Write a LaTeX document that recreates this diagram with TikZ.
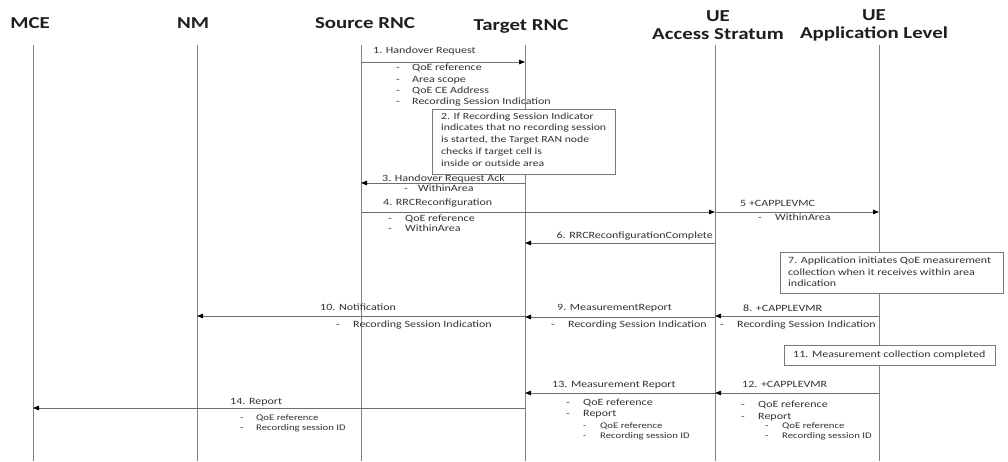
\documentclass[tikz,border=0pt]{standalone}
\usepackage{fontspec}
\setmainfont[FakeStretch=1.25]{Carlito}
\usetikzlibrary{arrows.meta}
\definecolor{txt}{RGB}{50,50,50}
\definecolor{hdrc}{RGB}{30,30,30}
\definecolor{lifec}{RGB}{130,130,130}
\definecolor{msgc}{RGB}{110,110,110}
\definecolor{boxc}{RGB}{120,120,120}
\newcommand\dsh[1]{\makebox[#1][l]{-}}
\tikzset{
  hdr/.style={font=\bfseries\fontsize{16.7}{20}\selectfont, text=hdrc, inner sep=0, align=center},
  lbl/.style={font=\fontsize{9.6}{12}\selectfont, anchor=west, inner sep=0, text=txt, text height=6.5pt, text depth=1pt},
  lblr/.style={lbl, anchor=east},
  sbl/.style={lbl, font=\fontsize{8.6}{10}\selectfont},
  life/.style={draw=lifec, line width=0.8pt},
  msg/.style={draw=msgc, line width=0.8pt, -{Triangle[length=6pt,width=4.5pt,color=black]}},
  notebox/.style={draw=boxc, fill=white, line width=0.7pt, anchor=north west, inner sep=0pt},
  notetext/.style={anchor=north west, inner sep=0pt, align=left, text=txt}
}
\begin{document}
\begin{tikzpicture}[x=1pt,y=-1pt]
\useasboundingbox[fill=white] (0,0) rectangle (1008,461);
% headers
\node[hdr] (hmce) at (30,23) {MCE};
\node[hdr] (hnm) at (193,23) {NM};
\node[hdr] (hsr) at (365,23) {Source RNC};
\node[hdr] (htr) at (521,26) {Target RNC};
\node[hdr] (has) at (718,25) {UE\\[-2pt]Access Stratum};
\node[hdr] (hap) at (874,25) {UE\\[-2pt]Application Level};
% lifelines
\coordinate (mce) at (33,45);  \coordinate (mceb) at (33,461);
\coordinate (nm) at (197,45);  \coordinate (nmb) at (197,461);
\coordinate (sr) at (361,45);  \coordinate (srb) at (361,461);
\coordinate (tr) at (525,45);  \coordinate (trb) at (525,461);
\coordinate (as) at (715,45);  \coordinate (asb) at (715,461);
\coordinate (ap) at (879,45);  \coordinate (apb) at (879,461);
\foreach \a/\b in {mce/mceb,nm/nmb,sr/srb,tr/trb,as/asb,ap/apb}
  \draw[life] (\a) -- (\b);

% 1
\node[lbl] (l1) at (373,51) {1. Handover Request};
\draw[msg] (sr |- 0,62) -- (tr |- 0,62);
\node[lbl] (b1a) at (396,68) {\dsh{16pt}QoE reference};
\node[lbl] (b1b) at (396,80) {\dsh{16pt}Area scope};
\node[lbl] (b1c) at (396,91) {\dsh{16pt}QoE CE Address};
\node[lbl] (b1d) at (396,102) {\dsh{16pt}Recording Session Indication};
% 2
\node[notebox, minimum width=183pt, minimum height=65pt] (n2) at (432,109) {};
\node[notetext, font=\fontsize{9.4}{11.7}\selectfont] (t2) at (441,112.5)
 {2. If Recording Session Indicator\\indicates that no recording session\\is started, the Target RAN node\\checks if target cell is\\inside or outside area};
% 3
\node[lbl] (l3) at (382,178.5) {3. Handover Request Ack};
\draw[msg] (tr |- 0,183) -- (sr |- 0,183);
\node[lbl] (b3) at (404,189) {\dsh{14pt}WithinArea};
% 4
\node[lbl] (l4) at (383,203) {4. RRCReconfiguration};
\draw[msg] (sr |- 0,212) -- (as |- 0,212);
\node[lbl] (b4a) at (388,219) {\dsh{17pt}QoE reference};
\node[lbl] (b4b) at (388,229) {\dsh{17pt}WithinArea};
% 5
\node[lbl] (l5) at (740,204) {5 +CAPPLEVMC};
\draw[msg] (as |- 0,212) -- (ap |- 0,212);
\node[lbl] (b5) at (758,217.5) {\dsh{17pt}WithinArea};
% 6
\node[lblr] (l6) at (713,236) {6. RRCReconfigurationComplete};
\draw[msg] (as |- 0,243) -- (tr |- 0,243);
% 7
\node[notebox, minimum width=223pt, minimum height=41pt] (n7) at (780,252) {};
\node[notetext, font=\fontsize{9.6}{11.2}\selectfont] (t7) at (788,257)
 {7. Application initiates QoE measurement\\collection when it receives within area\\indication};
% 8
\node[lbl] (l8) at (743,308.5) {8. +CAPPLEVMR};
\draw[msg] (ap |- 0,316) -- (as |- 0,316);
\node[lbl] (b8) at (720,325) {\dsh{17pt}Recording Session Indication};
% 9
\node[lbl] (l9) at (557,308) {9. MeasurementReport};
\draw[msg] (as |- 0,317) -- (tr |- 0,317);
\node[lbl] (b9) at (551,325) {\dsh{17pt}Recording Session Indication};
% 10
\node[lbl] (l10) at (320,307.5) {10. Notification};
\draw[msg] (tr |- 0,316) -- (nm |- 0,316);
\node[lbl] (b10) at (336,325) {\dsh{17pt}Recording Session Indication};
% 11
\node[notebox, minimum width=211pt, minimum height=20pt] (n11) at (784,345) {};
\node[lbl] (t11) at (793,355) {11. Measurement collection completed};
% 12
\node[lbl] (l12) at (742,385) {12. +CAPPLEVMR};
\draw[msg] (ap |- 0,393) -- (as |- 0,393);
\node[lbl] (b12a) at (741,405) {\dsh{17pt}QoE reference};
\node[lbl] (b12b) at (741,416.5) {\dsh{17pt}Report};
\node[sbl] (b12c) at (765,426) {\dsh{17pt}QoE reference};
\node[sbl] (b12d) at (765,436) {\dsh{17pt}Recording session ID};
% 13
\node[lbl] (l13) at (552,385) {13. Measurement Report};
\draw[msg] (as |- 0,393) -- (tr |- 0,393);
\node[lbl] (b13a) at (566,403) {\dsh{17pt}QoE reference};
\node[lbl] (b13b) at (566,414) {\dsh{17pt}Report};
\node[sbl] (b13c) at (583,426) {\dsh{17pt}QoE reference};
\node[sbl] (b13d) at (583,436) {\dsh{17pt}Recording session ID};
% 14
\node[lbl] (l14) at (230,402) {14. Report};
\draw[msg] (tr |- 0,408) -- (mce |- 0,408);
\node[sbl] (b14a) at (240,418) {\dsh{16pt}QoE reference};
\node[sbl] (b14b) at (240,428) {\dsh{16pt}Recording session ID};
\end{tikzpicture}
\end{document}
